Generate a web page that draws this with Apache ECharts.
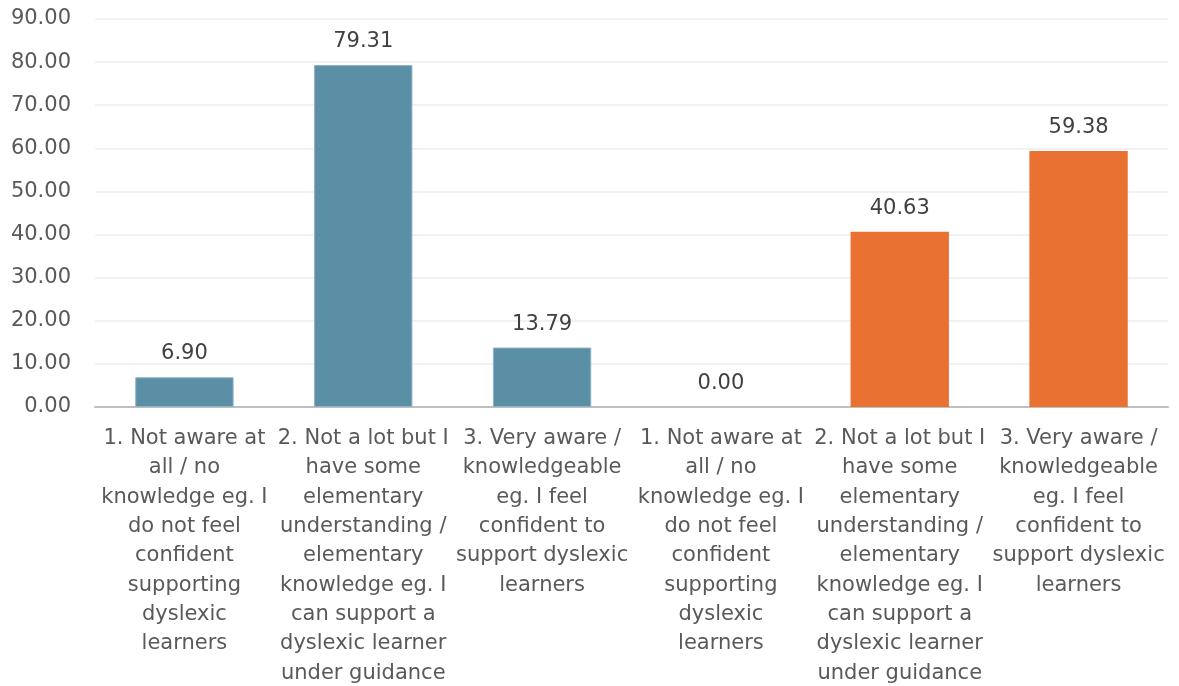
<!DOCTYPE html>
<html>
<head>
<meta charset="utf-8">
<script src="https://cdn.jsdelivr.net/npm/echarts@6/dist/echarts.min.js"></script>
<style>
  html, body { margin: 0; padding: 0; background: #ffffff; }
  #chart { width: 1179px; height: 686px; }
</style>
</head>
<body>
<div id="chart"></div>
<script>
// Response categories (line breaks as laid out under each bar)
const categories = [
  "1. Not aware at\nall / no\nknowledge eg. I\ndo not feel\nconfident\nsupporting\ndyslexic\nlearners",
  "2. Not a lot but I\nhave some\nelementary\nunderstanding /\nelementary\nknowledge eg. I\ncan support a\ndyslexic learner\nunder guidance",
  "3. Very aware /\nknowledgeable\neg. I feel\nconfident to\nsupport dyslexic\nlearners",
  "1. Not aware at\nall / no\nknowledge eg. I\ndo not feel\nconfident\nsupporting\ndyslexic\nlearners",
  "2. Not a lot but I\nhave some\nelementary\nunderstanding /\nelementary\nknowledge eg. I\ncan support a\ndyslexic learner\nunder guidance",
  "3. Very aware /\nknowledgeable\neg. I feel\nconfident to\nsupport dyslexic\nlearners"
];

// Percentages per response, first group then second group
const values = [6.90, 79.31, 13.79, 0.00, 40.63, 59.38];
const groupOf = [0, 0, 0, 1, 1, 1];
const groupColors = ["#5b8fa6", "#e97132"];
const groupBorders = ["#8fb3c4", "#e97132"];
const groupBorderWidths = [1, 0];

const yMin = 0, yMax = 90, yStep = 10;

const chart = echarts.init(document.getElementById("chart"));
const font = "'DejaVu Sans', sans-serif";

chart.setOption({
  animation: false,
  grid: { left: 95, right: 11, top: 19, bottom: 279, containLabel: false, outerBoundsMode: "none" },
  xAxis: {
    type: "category",
    data: categories,
    axisTick: { show: false },
    axisLine: { lineStyle: { color: "#bfbfbf", width: 2 } },
    axisLabel: {
      interval: 0,
      margin: 17,
      color: "#595959",
      fontFamily: font,
      fontSize: 21,
      lineHeight: 29.3,
      align: "center"
    }
  },
  yAxis: {
    type: "value",
    min: yMin,
    max: yMax,
    interval: yStep,
    axisLine: { show: false },
    axisTick: { show: false },
    splitLine: { lineStyle: { color: "#ececec", width: 1.5 } },
    axisLabel: {
      margin: 24,
      color: "#595959",
      fontFamily: font,
      fontSize: 21,
      formatter: v => v.toFixed(2)
    }
  },
  series: [{
    type: "bar",
    barWidth: "55%",
    data: values.map((v, i) => ({
      value: v,
      itemStyle: {
        color: groupColors[groupOf[i]],
        borderColor: groupBorders[groupOf[i]],
        borderWidth: groupBorderWidths[groupOf[i]]
      }
    })),
    label: {
      show: true,
      position: "top",
      distance: 13,
      color: "#404040",
      fontFamily: font,
      fontSize: 21,
      formatter: p => p.value.toFixed(2)
    }
  }]
});
</script>
</body>
</html>
